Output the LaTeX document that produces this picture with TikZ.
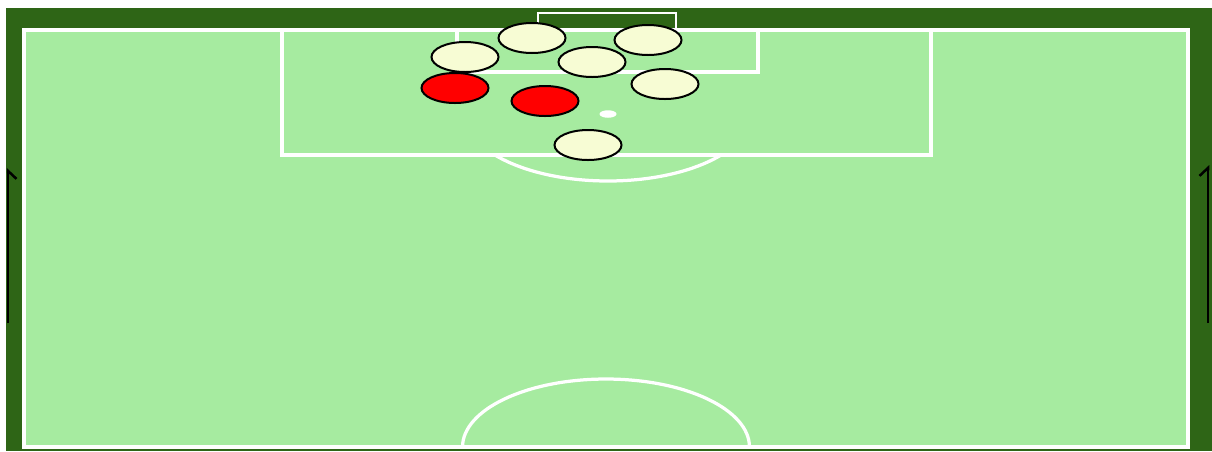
\documentclass[tikz,border=0pt]{standalone}
\usepackage{xcolor}
\usepackage{tikz}
\definecolor{turfdark}{RGB}{46,101,22}
\definecolor{turflight}{RGB}{166,235,160}
\definecolor{defcolor}{RGB}{247,252,212}
\definecolor{attcolor}{RGB}{255,0,0}
\usetikzlibrary{shapes.geometric, arrows.meta, positioning}

\begin{document}
\begin{tikzpicture}[
    x=0.02cm, y=-0.02cm,
    line/.style={draw=white, line width=0.065cm},
    player/.style={ellipse, draw=black, line width=0.04cm, minimum width=1.34cm, minimum height=0.6cm, inner sep=0pt},
    dirarrow/.style={draw=black, line width=0.05cm}
]
    \useasboundingbox (0,0) rectangle (1212,451);
    \fill[white] (0,0) rectangle (1212,451);
    \fill[turfdark] (6,8) rectangle (1212,451);
    \fill[turflight] (24,30) rectangle (1188,447);

    % pitch markings
    \draw[line] (24,30) rectangle (1188,447);
    \draw[line] (282,30) rectangle (931,155);
    \draw[line] (457,30) rectangle (758,72);
    \draw[draw=white, line width=0.045cm] (538,30) -- (538,13) -- (676,13) -- (676,30);
    \fill[white] (608,114) ellipse [x radius=0.17cm, y radius=0.075cm];
    \begin{scope}
        \clip (0,155) rectangle (1212,451);
        \draw[line] (608,114) ellipse [x radius=2.86cm, y radius=1.34cm];
    \end{scope}
    \begin{scope}
        \clip (0,0) rectangle (1212,447);
        \draw[line] (606,447) ellipse [x radius=2.87cm, y radius=1.36cm];
    \end{scope}

    % direction of play
    \begin{scope}
        \clip (6,8) rectangle (1212,451);
        \draw[dirarrow, -{Straight Barb[right, length=0.16cm, width=0.34cm]}] (8,323) -- (8,168);
        \draw[dirarrow, -{Straight Barb[left, length=0.16cm, width=0.34cm]}] (1208,323) -- (1208,165);
    \end{scope}

    % players
    \node[player, fill=attcolor] (att1) at (455,88) {};
    \node[player, fill=attcolor] (att2) at (545,101) {};
    \node[player, fill=defcolor] (def1) at (465,57) {};
    \node[player, fill=defcolor] (def2) at (532,38) {};
    \node[player, fill=defcolor] (def3) at (592,62) {};
    \node[player, fill=defcolor] (def4) at (648,40) {};
    \node[player, fill=defcolor] (def5) at (665,84) {};
    \node[player, fill=defcolor] (def6) at (588,145) {};
\end{tikzpicture}
\end{document}
